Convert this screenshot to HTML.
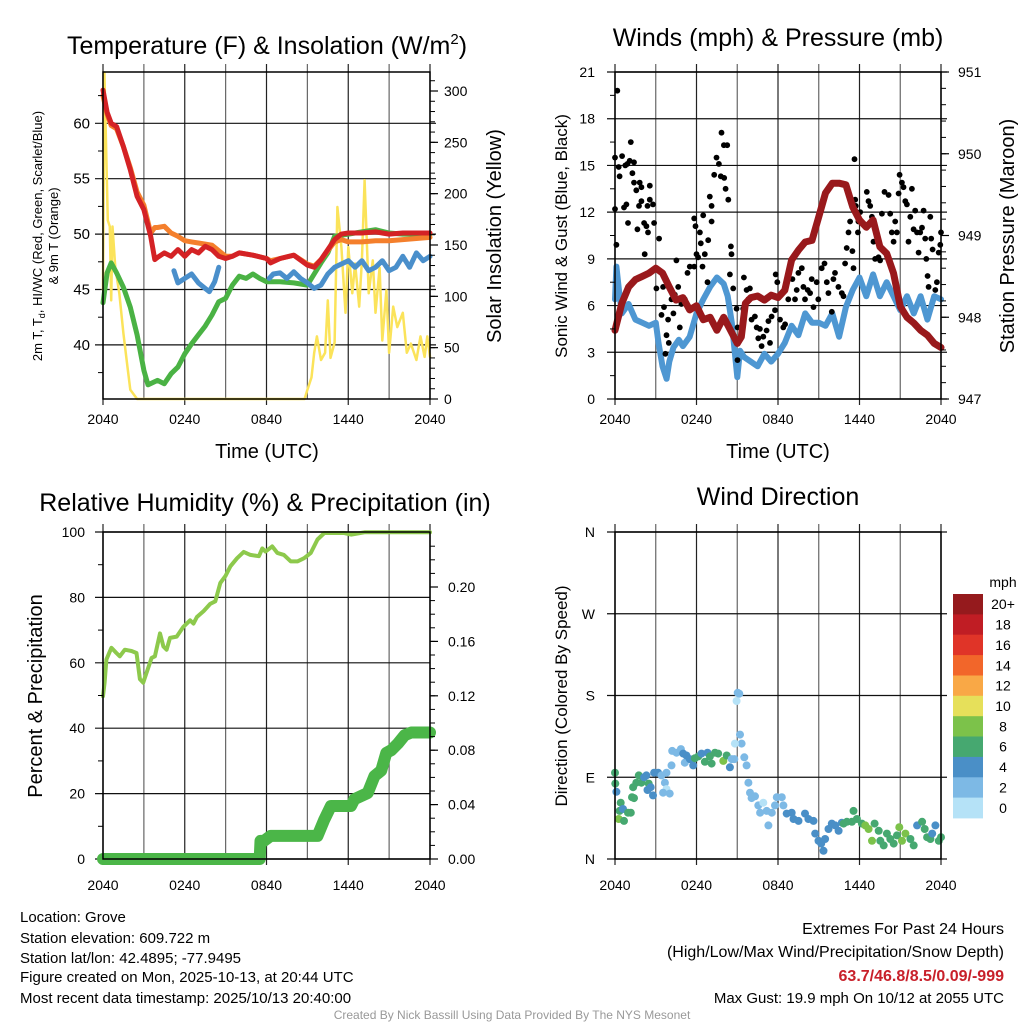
<!DOCTYPE html>
<html><head><meta charset="utf-8"><style>
html,body{margin:0;padding:0;background:#fff}
svg{display:block;font-family:"Liberation Sans",Arial,sans-serif}
</style></head><body>
<svg id="c" width="1024" height="1024" viewBox="0 0 1024 1024" xmlns="http://www.w3.org/2000/svg">
<g id="grid"></g><g id="marks"></g><g id="axes"></g>
<text x="267" y="54" font-size="25" text-anchor="middle">Temperature (F) &amp; Insolation (W/m<tspan font-size="15" dy="-10">2</tspan><tspan dy="10">)</tspan></text>
<text x="778" y="46" font-size="25" text-anchor="middle">Winds (mph) &amp; Pressure (mb)</text>
<text x="265" y="511" font-size="25" text-anchor="middle">Relative Humidity (%) &amp; Precipitation (in)</text>
<text x="778" y="505" font-size="25" text-anchor="middle">Wind Direction</text>
<text transform="translate(42,236) rotate(-90)" font-size="13" text-anchor="middle">2m T, T<tspan font-size="9" dy="3">d</tspan><tspan dy="-3">, HI/WC (Red, Green, Scarlet/Blue)</tspan></text>
<text transform="translate(58,236) rotate(-90)" font-size="13" text-anchor="middle">&amp; 9m T (Orange)</text>
<text transform="translate(501,236) rotate(-90)" font-size="20" text-anchor="middle">Solar Insolation (Yellow)</text>
<text x="267" y="458" font-size="20" text-anchor="middle">Time (UTC)</text>
<text x="778" y="458" font-size="20" text-anchor="middle">Time (UTC)</text>
<text transform="translate(567,236) rotate(-90)" font-size="17" text-anchor="middle">Sonic Wind &amp; Gust (Blue, Black)</text>
<text transform="translate(1014,236) rotate(-90)" font-size="20" text-anchor="middle">Station Pressure (Maroon)</text>
<text transform="translate(42,696) rotate(-90)" font-size="20" text-anchor="middle">Percent &amp; Precipitation</text>
<text transform="translate(567,696) rotate(-90)" font-size="17" text-anchor="middle">Direction (Colored By Speed)</text>
<text x="1003" y="587" font-size="14" text-anchor="middle">mph</text>
<g font-size="15">
<text x="20" y="922">Location: Grove</text>
<text x="20" y="943">Station elevation: 609.722 m</text>
<text x="20" y="963">Station lat/lon: 42.4895; -77.9495</text>
<text x="20" y="982">Figure created on Mon, 2025-10-13, at 20:44 UTC</text>
<text x="20" y="1003">Most recent data timestamp: 2025/10/13 20:40:00</text>
</g>
<g font-size="16" text-anchor="end">
<text x="1004" y="934">Extremes For Past 24 Hours</text>
<text x="1004" y="957">(High/Low/Max Wind/Precipitation/Snow Depth)</text>
<text x="1004" y="981" fill="#c8202a" font-weight="bold">63.7/46.8/8.5/0.09/-999</text>
<text x="1004" y="1003" font-size="15">Max Gust: 19.9 mph On 10/12 at 2055 UTC</text>
</g>
<text x="512" y="1019" font-size="12" fill="#999" text-anchor="middle">Created By Nick Bassill Using Data Provided By The NYS Mesonet</text>
</svg>
<script>
// ---------- data ----------
const xTickLabels = ["2040","0240","0840","1440","2040"];
const tempTicks = [40,45,50,55,60];
const solarTicks = [0,50,100,150,200,250,300];
const windTicks = [0,3,6,9,12,15,18,21];
const presTicks = [947,948,949,950,951];
const rhTicks = [0,20,40,60,80,100];
const precTicks = [0.00,0.04,0.08,0.12,0.16,0.20];
const dirLabels = ["N","E","S","W","N"];
const cbLabels = ["0","2","4","6","8","10","12","14","16","18","20+"];
const cbColors = ["#b5e2f7","#7db9e5","#4a8fc7","#46a870","#7cc24a","#e6e05a","#f9a846","#f2662a","#e03428","#c01d24","#951a1d"];

const tempT = [0,0.3,0.6,1,1.5,2,2.5,3,3.5,3.8,4,4.5,5,5.5,6,6.5,7,7.5,8,8.5,9,9.5,10,11,12,12.3,13,14,15,15.5,16,16.5,17,17.5,18,19,20,21,22,23,24];
const tempRed = [63,61,60,59.7,57.9,55.8,53.4,52.2,49.8,47.7,47.9,48.3,48,48.6,48,48.6,48.3,48.9,48.6,48,47.8,48,48.3,48.1,47.8,47.4,47.8,48.1,47.2,47,47.7,48.6,49.5,50,50.1,50.1,50.2,50,50.1,50.1,50.1];
const temp9m = [62.5,60.8,59.8,59.5,57.9,56,53.8,52.6,50.1,50.6,50.6,50.7,50.1,49.8,49.4,49.3,49.2,49.1,49,48.5,48,48,48.3,48.1,47.8,47.6,47.8,48.1,47.3,47.1,47.7,48.5,49.3,49.5,49.3,49.3,49.4,49.4,49.5,49.6,49.7];
const dewT = [0,0.3,0.6,1,1.5,2,2.5,3,3.3,4,4.5,5,5.5,6,6.5,7,7.5,8,8.5,9,9.5,10,10.5,11,11.5,12,13,14,15,15.5,16,16.5,17,18,19,20,21,22,23,24];
const dew = [43.8,46.5,47.4,46.5,45.2,43.4,40.9,37.7,36.4,36.8,36.5,37.4,38,39.2,40.1,40.9,41.7,42.7,43.9,44.2,45.4,46.2,46,46.4,46,45.7,45.7,45.6,45.4,46.4,47.4,48.3,49.8,50,50.2,50.4,50.1,50,50,50];
const hiT = [5.2,5.5,6,6.5,7,7.5,7.8,8.2,8.5,null,12.2,12.5,13,13.5,14,14.5,15,15.5,16,16.5,17,17.5,18,18.5,19,19.5,20,20.5,21,21.5,22,22.5,23,23.5,24];
const hiwc = [46.7,45.6,46,46.4,45.6,45.1,44.8,45.7,47,null,46,46.4,46.5,46,46.6,46,45.6,45.1,45.4,46.4,47,47.3,47.6,47,47.6,46.7,47,47.6,46.7,47,48,47,48.3,47.6,48];
const solT = [0,0.1,0.25,0.35,0.5,0.6,0.7,0.9,1.2,1.5,1.8,2,2.5,14.8,15,15.3,15.5,15.7,16,16.3,16.5,16.7,17,17.2,17.5,17.8,18,18.3,18.5,18.8,19,19.2,19.5,19.8,20,20.3,20.5,20.8,21,21.3,21.6,22,22.3,22.6,23,23.3,23.6,23.8,24];
const solar = [106,318,233,174,168,96,168,128,103,64,31,9,0,0,9,21,45,61,38,45,96,40,55,187,148,84,148,103,132,90,135,213,103,135,84,128,57,106,45,90,70,84,45,54,38,61,41,61,41];

const windT = [0,0.1,0.3,0.5,1,1.5,2,2.5,3,3.2,3.5,3.8,4,4.3,4.7,5,5.5,6,6.5,7,7.5,8,8.3,8.6,9,9.2,9.5,10,10.5,11,11.5,12,12.5,13,13.5,14,14.5,15,15.5,16,16.5,17,17.5,18,18.5,19,19.5,20,20.5,21,21.5,22,22.5,23,23.5,24];
const wind = [6.4,8.5,6.9,5.5,6.1,5.1,4.9,4.7,4.9,3.6,2.1,1.3,2.4,3.3,3.8,3.4,4.0,5.5,6.4,7.2,7.8,7.4,6.6,4.9,1.4,3.1,2.7,2.4,2.1,2.9,2.4,2.9,3.6,4.7,4.1,5.5,4.9,4.9,4.7,5.5,4.0,5.9,7.0,7.8,6.6,8.0,6.6,7.5,6.6,5.7,6.6,5.5,6.6,5.1,6.6,6.4];
const presT = [0,0.5,1,1.5,2,2.5,3,3.5,4,4.5,5,5.5,6,6.5,7,7.5,8,8.5,9,9.3,9.6,10,10.5,11,11.5,12,12.5,13,13.5,14,14.5,15,15.5,16,16.5,17,17.5,18,18.5,19,19.5,20,20.5,21,21.5,22,22.5,23,23.5,24];
const pres = [947.84,948.17,948.37,948.46,948.5,948.54,948.6,948.54,948.37,948.21,948.24,948.09,948.14,947.97,948.0,947.84,948.0,947.84,947.68,947.76,948.17,948.24,948.26,948.21,948.27,948.24,948.33,948.7,948.82,948.92,948.94,949.23,949.52,949.64,949.64,949.62,949.35,949.19,949.1,949.19,948.86,948.78,948.54,948.13,948.0,947.93,947.84,947.78,947.68,947.63];
const gustT = [0.17,0,0.1,0,0.27,0.34,0.52,0.76,0.91,1.16,1.08,1.4,1.28,1.4,1.57,1.82,1.94,0.96,0.66,0.84,1.77,1.94,2.14,2.31,1.65,2.19,2.39,2.56,2.56,2.8,2.88,2.43,3.25,3.05,3.54,3.61,3.42,3.91,3.79,3.96,3.71,4.16,4.4,4.52,4.3,4.65,4.89,4.77,5.14,5.34,5.51,5.83,6.0,6.12,5.93,5.83,6.25,6.32,6.49,6.61,6.44,6.86,6.81,6.98,7.11,7.11,7.3,7.47,7.65,7.79,8.04,7.84,8.02,8.26,8.14,8.34,8.53,8.58,8.46,8.7,8.95,9.02,9.02,9.44,9.49,9.69,9.93,9.81,10.06,10.3,10.43,10.55,10.67,10.79,10.92,11.16,11.29,11.41,11.53,11.78,11.83,11.95,12.15,12.39,12.52,12.76,13.06,13.25,13.38,13.5,13.75,13.87,13.99,14.19,14.36,14.48,14.61,14.85,14.97,15.22,15.42,15.59,15.71,15.96,16.08,16.2,16.45,16.7,16.82,16.94,17.06,17.19,17.31,17.48,17.56,17.63,17.68,17.73,17.92,18.05,17.88,18.54,18.66,18.79,18.91,19.03,19.15,19.4,19.52,19.65,19.84,20.14,20.26,20.38,20.51,20.63,20.75,20.88,20.95,21.12,21.24,21.37,21.49,21.61,21.74,21.86,21.98,22.1,22.23,22.35,22.47,22.6,22.72,22.84,22.92,23.01,23.09,23.21,23.28,23.38,23.58,23.7,23.83,23.95,24];
const gust = [19.8,12.2,9.9,15.5,14.9,14.3,15.6,15.0,15.1,16.5,15.3,15.2,14.5,13.9,13.4,13.9,13.6,11.3,12.3,12.5,12.4,12.7,11.3,11.1,10.9,9.3,12.4,12.8,13.7,12.5,11.3,10.7,10.3,7.1,7.2,5.9,5.4,5.1,4.1,3.6,2.9,6.4,6.7,8.9,5.5,7.2,6.1,4.6,6.4,8.1,8.5,8.5,9.3,9.1,11.1,11.6,10.7,10.0,11.8,9.3,8.5,10.2,7.5,13.0,12.4,11.4,14.4,15.5,15.1,14.3,14.2,17.1,16.3,16.3,13.5,12.8,9.8,9.3,8.0,7.1,5.8,4.6,2.5,5.8,7.8,7.0,7.1,6.4,5.1,5.3,4.6,3.9,4.5,3.4,4.0,4.4,5.0,3.6,5.3,5.7,8.0,7.5,5.1,4.6,4.8,6.4,7.7,6.4,7.0,8.1,8.4,7.2,6.4,7.0,6.8,7.7,5.9,7.5,6.4,8.4,8.7,7.5,6.8,5.6,7.7,8.1,7.2,6.8,6.6,8.7,9.7,10.7,11.4,9.5,8.4,15.4,12.8,12.4,11.4,12.0,10.7,13.3,12.7,12.4,11.7,10.1,9.0,9.1,8.9,11.9,13.3,13.1,11.9,10.7,10.1,11.4,10.7,13.2,14.4,13.9,13.6,12.7,12.5,10.1,11.7,13.5,10.9,12.1,10.7,9.4,10.7,11.0,12.1,10.3,9.0,7.9,7.2,11.7,10.3,9.6,7.0,7.5,9.4,9.9,10.7];

const rhT = [0,0.12,0.25,0.62,0.98,1.23,1.6,2.09,2.46,2.71,2.95,3.2,3.57,3.81,4.18,4.43,4.67,4.92,5.41,5.9,6.39,6.64,6.89,7.38,7.87,8.24,8.61,8.98,9.35,9.84,10.33,10.82,11.44,11.69,11.93,12.42,12.79,13.28,13.78,14.27,14.76,15.25,15.74,16.24,17.71,18.2,19.19,24];
const rh = [49.8,53.9,61,64.6,63,62,64,63.6,63,55,53.9,57,61.5,62,69,65,64,67.6,68,71,73,72,74,75.8,78,78.8,84.4,86.5,89.5,92,93.9,93,92.6,95,94,95.6,93.6,93,91,91,92,93.6,97.7,99.7,99.7,99.2,99.9,99.9];
const precT = [0,11.5,11.56,11.81,12.3,15.74,16.24,16.73,18.2,18.45,19.43,19.93,20.42,20.79,21.16,21.65,22.14,22.63,24];
const prec = [0,0,0.0133,0.0133,0.017,0.017,0.029,0.039,0.039,0.044,0.0485,0.061,0.065,0.078,0.08,0.085,0.091,0.093,0.093];

const dirT = [0,0.02,0.1,0.42,0.34,0.27,0.66,0.59,0.96,1.16,1.25,1.4,1.33,1.57,1.75,1.94,2.14,2.31,2.48,2.39,2.63,2.8,2.88,3.17,3.42,3.67,3.79,3.54,4.03,3.79,4.16,4.21,4.53,4.85,5.02,5.14,5.26,5.51,5.76,5.88,6.13,6.37,6.62,6.81,6.99,7.11,7.36,7.6,7.97,8.22,8.46,8.59,8.78,9.03,9.15,8.95,9.2,9.32,8.83,9.52,9.69,9.82,9.94,10.06,10.31,10.55,10.68,10.92,11.17,11.29,11.54,11.78,11.91,12.28,12.4,12.64,13.01,13.14,13.51,13.99,14.24,14.61,14.74,14.98,15.18,15.35,15.47,15.72,15.96,16.21,16.46,16.7,16.83,17.07,17.44,17.56,17.81,18.18,18.43,18.67,18.92,19.11,19.41,19.53,19.78,20.02,20.27,20.52,20.76,20.93,21.13,21.38,21.75,21.99,22.24,22.61,22.8,22.98,23.22,23.35,23.59,23.84,24];
const dirDeg = [95,83,74,62,53,44,42,55,51,51,68,67,79,84,92,84,90,92,83,76,79,70,95,95,92,84,77,73,72,95,103,119,117,121,116,106,114,110,103,111,113,116,107,117,113,105,117,116,108,114,101,110,110,183,182,174,137,127,127,112,103,84,73,67,69,59,51,62,53,37,51,59,68,68,59,50,51,44,42,50,44,42,28,20,17,9,22,33,39,37,31,40,39,41,41,53,44,39,37,33,20,39,31,20,15,28,22,17,26,35,20,28,22,15,37,41,33,24,22,28,37,20,24];
const dirSpd = [6,6,4,6,6,8,6,4,6,6,6,6,6,6,6,6,4,4,6,4,4,4,4,4,2,2,0,2,2,2,2,2,2,2,4,2,4,4,4,6,6,4,6,4,6,6,6,6,8,6,4,2,2,2,2,0,2,2,0,2,2,2,2,2,2,2,2,0,2,2,2,2,2,2,2,4,4,4,4,4,4,4,4,4,4,4,4,4,4,4,4,4,6,6,6,6,6,6,8,8,8,6,6,6,6,6,6,6,6,8,8,8,6,6,4,6,6,6,6,4,4,6,6];

// ---------- scales ----------
const P1={l:103,r:430,t:72,b:399}, P2={l:615,r:941,t:72,b:399}, P3={l:103,r:430,t:532,b:859}, P4={l:615,r:941,t:532,b:859};
const xs=(P)=>t=>P.l+t*(P.r-P.l)/24;
const x1=xs(P1), x2=xs(P2);
const yT=v=>123.3+(60-v)*11.08;
const yS=w=>399-w*308/300;
const yW=v=>399-v*327/21;
const yP=p=>399-(p-947)*81.75;
const yRH=r=>859-r*3.27;
const yPr=p=>859-p*1360;
const yD=d=>859-d*327/360;

const NS="http://www.w3.org/2000/svg";
const G=document.getElementById('grid'), M=document.getElementById('marks'), A=document.getElementById('axes');
function mk(tag,parent,attrs){const e=document.createElementNS(NS,tag);for(const k in attrs)e.setAttribute(k,attrs[k]);parent.appendChild(e);return e;}
function line(parent,x1_,y1_,x2_,y2_,col,w,name){const e=mk('line',parent,{x1:x1_,y1:y1_,x2:x2_,y2:y2_,stroke:col,'stroke-width':w});

return e;}
function txt(parent,x,y,s,anchor,size,name){const e=mk('text',parent,{x:x,y:y,'text-anchor':anchor,'font-size':size});e.textContent=s;

return e;}
function path(xsArr,ysArr,fx,fy){let d='',pen=false;for(let i=0;i<xsArr.length;i++){if(ysArr[i]===null||xsArr[i]===null){pen=false;continue;}d+=(pen?'L':'M')+fx(xsArr[i]).toFixed(1)+' '+fy(ysArr[i]).toFixed(1);pen=true;}return d;}
function series(parent,d,col,w,name){const e=mk('path',parent,{d:d,fill:'none',stroke:col,'stroke-width':w,'stroke-linejoin':'round','stroke-linecap':'round'});

return e;}

// frames & grids
[P1,P2,P3,P4].forEach((P,pi)=>{
  for(let i=0;i<=8;i++){const x=P.l+i*(P.r-P.l)/8;line(G,x,P.t-8,x,P.b+(i%2==0?6:0),i%2==0?'#222':'#666',1.2,'v-grid');}
  mk('rect',A,{x:P.l,y:P.t,width:P.r-P.l,height:P.b-P.t,fill:'none',stroke:'#000','stroke-width':1.5});
  xTickLabels.forEach((s,i)=>txt(A,P.l+i*(P.r-P.l)/4,P.b+(pi<2?25:31),s,'middle',14,'x-tick-label'));
});
// panel 1 axes
tempTicks.forEach(v=>{line(G,P1.l-8,yT(v),P1.r+6,yT(v),'#111',1.2,'h-grid');txt(A,P1.l-13,yT(v)+5,String(v),'end',15,'temp-tick-label');});
for(let v=37.5;v<65;v+=5)line(A,P1.l-5,yT(v),P1.l,yT(v),'#000',1,'temp-minor-tick');
solarTicks.forEach(w=>{line(A,P1.r,yS(w),P1.r+8,yS(w),'#000',1.2,'solar-tick');txt(A,P1.r+14,yS(w)+5,String(w),'start',14,'solar-tick-label');});
for(let w=10;w<320;w+=10)line(A,P1.r,yS(w),P1.r+5,yS(w),'#000',1,'solar-minor-tick');
// panel 2 axes
windTicks.forEach(v=>{line(G,P2.l-8,yW(v),P2.r+6,yW(v),'#111',1.2,'h-grid');txt(A,P2.l-20,yW(v)+5,String(v),'end',14,'wind-tick-label');});
for(let v=1.5;v<21;v+=3)line(A,P2.l-5,yW(v),P2.l,yW(v),'#000',1,'wind-minor-tick');
presTicks.forEach(p=>{line(A,P2.r,yP(p),P2.r+8,yP(p),'#000',1.2,'pres-tick');txt(A,P2.r+17,yP(p)+5,String(p),'start',14,'pres-tick-label');});
for(let p=947.2;p<951;p+=0.2)line(A,P2.r,yP(p),P2.r+5,yP(p),'#000',1,'pres-minor-tick');
// panel 3 axes
rhTicks.forEach(r=>{line(G,P3.l-8,yRH(r),P3.r,yRH(r),'#111',1.2,'h-grid');txt(A,P3.l-18,yRH(r)+5,String(r),'end',14,'rh-tick-label');});
for(let r=10;r<100;r+=20)line(A,P3.l-5,yRH(r),P3.l,yRH(r),'#000',1,'rh-minor-tick');
precTicks.forEach(p=>{line(A,P3.r,yPr(p),P3.r+8,yPr(p),'#000',1.2,'prec-tick');txt(A,P3.r+18,yPr(p)+5,p.toFixed(2),'start',14,'prec-tick-label');});
for(let p=0.01;p<0.24;p+=0.01)line(A,P3.r,yPr(p),P3.r+5,yPr(p),'#000',1,'prec-minor-tick');
// panel 4 axes
dirLabels.forEach((s,i)=>{const d=i*90;line(G,P4.l-8,yD(d),P4.r+6,yD(d),'#111',1.2,'h-grid');txt(A,P4.l-20,yD(d)+5,s,'end',14,'dir-tick-label');});

// ---------- marks ----------
series(M,path(solT,solar,x1,yS),'#fbe35a',2.5,'solar-line');
series(M,path(dewT,dew,x1,yT),'#4ab244',5,'dewpoint-line');
series(M,path(hiT,hiwc,x1,yT),'#4a8fcb',5,'hi-wc-line');
series(M,path(tempT,temp9m,x1,yT),'#f47f2c',5,'temp-9m-line');
series(M,path(tempT,tempRed,x1,yT),'#d42225',5,'temp-2m-line');

series(M,path(windT,wind,x2,yW),'#4e97d2',6,'wind-speed-line');
gustT.forEach((t,i)=>{const c=mk('circle',M,{cx:x2(t).toFixed(1),cy:yW(gust[i]).toFixed(1),r:2.9,fill:'#000'});

});
series(M,path(presT,pres,x2,yP),'#99191c',7,'pressure-line');

series(M,path(rhT,rh,x1,yRH),'#8dc94c',4,'rh-line');
series(M,path(precT,prec,x1,yPr),'#4bb648',12,'precip-line');

dirT.forEach((t,i)=>{const c=mk('circle',M,{cx:x2(t).toFixed(1),cy:yD(dirDeg[i]).toFixed(1),r:4,fill:cbColors[Math.min(10,Math.round(dirSpd[i]/2))]});

});

// colorbar
const cbTop=594,cbH=224/11;
cbLabels.forEach((s,i)=>{const k=10-i;const y=cbTop+i*cbH;
const r=mk('rect',A,{x:953,y:y.toFixed(1),width:30,height:(cbH+0.4).toFixed(1),fill:cbColors[k]});


txt(A,1003,y+cbH/2+5,cbLabels[k],'middle',14,'colorbar-label');});
</script>
</body></html>
